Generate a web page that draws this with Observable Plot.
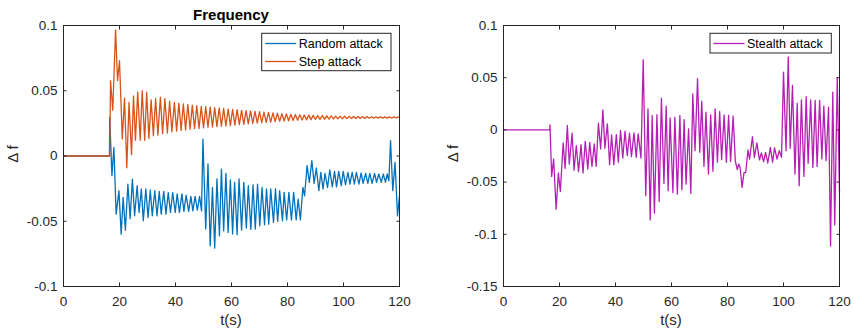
<!DOCTYPE html>
<html><head><meta charset="utf-8">
<script src="https://cdn.jsdelivr.net/npm/d3@7"></script>
<script src="https://cdn.jsdelivr.net/npm/@observablehq/plot@0.6"></script>
<style>
body{margin:0;background:#fff;}
#wrap{position:relative;width:854px;height:334px;overflow:hidden;background:#fff;}
#wrap svg{position:absolute;top:0;}
</style></head><body><div id="wrap"></div>
<script>
// ---------- data ----------
const xTicks = [0, 20, 40, 60, 80, 100, 120];
const xLabels = ["0", "20", "40", "60", "80", "100", "120"];
const leftYTicks = [-0.1, -0.05, 0, 0.05, 0.1];
const leftYLabels = ["-0.1", "-0.05", "0", "0.05", "0.1"];
const rightYTicks = [-0.15, -0.1, -0.05, 0, 0.05, 0.1];
const rightYLabels = ["-0.15", "-0.1", "-0.05", "0", "0.05", "0.1"];

const seriesNames = ["Random attack", "Step attack", "Stealth attack"];
const seriesColors = ["#0072BD", "#D95319", "#B51FB5"];
const titleLeft = "Frequency";
const xAxisLabel = "t(s)";
const yAxisLabel = "\u0394 f";

const randomT = [0,16.4,16.5,17.3,18.0,18.8,19.8,20.6,21.3,22.1,23.0,23.8,24.6,25.4,26.3,27.0,27.8,28.5,29.4,30.2,31.0,31.7,32.6,33.4,34.2,34.9,35.8,36.6,37.4,38.2,39.0,39.9,40.6,41.4,42.3,43.0,43.8,44.7,45.5,46.2,47.0,47.8,48.6,49.3,
49.8,50.8,51.6,52.4,53.2,54.0,54.8,55.7,56.4,57.2,58.0,58.8,59.6,60.4,61.1,62.0,62.7,63.6,64.4,65.3,66.0,66.9,67.7,68.5,69.3,70.1,70.9,71.8,72.5,73.3,74.0,75.0,75.7,76.5,77.2,78.2,78.8,79.7,80.5,81.4,82.2,83.1,83.8,84.6,85.5,86.1,87.0,87.8,88.7,89.5,90.3,91.2,91.9,92.7,93.4,94.3,95.1,96.0,96.8,97.5,98.3,99.2,99.9,100.7,101.6,102.3,103.1,103.9,104.6,105.5,106.3,107.0,107.9,108.7,109.4,110.2,111.1,111.8,112.6,113.5,114.2,115.0,115.6,116.2,116.8,117.6,118.4,119.3,120];
const randomV = [0,0,0.0296,-0.0151,0.0066,-0.0445,-0.0266,-0.060,-0.0317,-0.0568,-0.0215,-0.048,-0.0177,-0.0458,-0.0228,-0.0433,-0.0253,-0.0496,-0.0253,-0.047,-0.026,-0.0458,-0.0266,-0.0458,-0.0271,-0.0445,-0.0271,-0.0445,-0.028,-0.0432,-0.028,-0.0432,-0.029,-0.0432,-0.029,-0.0425,-0.030,-0.0425,-0.031,-0.042,-0.031,-0.0415,-0.031,-0.042,
0.013,-0.056,-0.0061,-0.0688,-0.0241,-0.0706,-0.0176,-0.0611,-0.010,-0.0573,-0.0133,-0.0586,-0.0184,-0.0598,-0.0202,-0.0604,-0.0176,-0.0568,-0.0202,-0.0552,-0.0228,-0.0563,-0.022,-0.056,-0.0215,-0.0535,-0.0241,-0.0527,-0.0253,-0.0522,-0.0253,-0.0509,-0.0253,-0.0501,-0.0266,-0.0496,-0.0279,-0.049,-0.0279,-0.049,-0.0279,-0.049,-0.033,-0.049,-0.024,-0.0305,-0.0074,-0.0202,-0.0036,-0.021,-0.0092,-0.0266,-0.0126,-0.0253,-0.0133,-0.024,-0.0107,-0.0236,-0.0118,-0.0236,-0.0118,-0.0228,-0.0118,-0.022,-0.0126,-0.0215,-0.0126,-0.0215,-0.0126,-0.0215,-0.013,-0.021,-0.0133,-0.021,-0.0133,-0.021,-0.0133,-0.0202,-0.0138,-0.0202,-0.0138,-0.0202,-0.0138,-0.019,0.0117,-0.0266,-0.0049,-0.0458,-0.0305];

const stepT = [0,16.5,16.8,17.6,18.6,19.3,20.0,21.0,21.8,22.6,23.4,24.3,25.0,25.7,26.5,27.4,28.1,29.0,29.7,30.5,31.3,32.1,32.9,33.7,34.6,35.4,36.2,37.1,37.9,38.7,39.6,
40.4,41.2,42.0,42.8,43.6,44.4,45.2,46.0,46.8,47.6,48.4,49.2,50.0,50.8,51.6,52.4,53.2,54.0,54.8,55.6,56.4,57.2,58.0,58.8,59.6,60.4,61.2,62.0,62.8,63.6,64.4,65.2,66.0,66.8,67.6,68.4,69.2,70.0,70.8,71.6,72.4,73.2,74.0,74.8,75.6,76.4,77.2,78.0,78.8,79.6,80.4,81.2,82.0,82.8,83.6,84.4,85.2,86.0,86.8,87.6,88.4,89.2,90.0,90.8,91.6,92.4,93.2,94.0,94.8,95.6,96.4,97.2,98.0,98.8,99.6,100.4,101.2,102.0,102.8,103.6,104.4,105.2,106.0,106.8,107.6,108.4,109.2,110.0,110.8,111.6,112.4,113.2,114.0,114.8,115.6,116.4,117.2,118.0,118.8,119.6,120];
const stepV = [0,0,0.0577,0.035,0.0967,0.0577,0.073,0.013,0.0444,-0.009,0.041,0.001,0.046,0.012,0.049,0.012,0.050,0.012,0.049,0.0135,0.043,0.0155,0.044,0.016,0.045,0.017,0.044,0.0176,0.042,0.0186,0.041,
0.019,0.0405,0.0195,0.040,0.020,0.0395,0.0205,0.039,0.021,0.0385,0.0212,0.038,0.0215,0.0378,0.022,0.0375,0.0222,0.037,0.0225,0.0368,0.0228,0.0365,0.023,0.036,0.0233,0.0358,0.0236,0.0355,0.024,0.035,0.0243,0.0348,0.0246,0.0345,0.0249,0.0342,0.0252,0.034,0.0255,0.0337,0.0258,0.0334,0.026,0.0331,0.0263,0.0328,0.0266,0.0325,0.0268,0.0323,0.027,0.032,0.0272,0.0318,0.0274,0.0316,0.0276,0.0314,0.0277,0.0313,0.0279,0.0311,0.028,0.031,0.0281,0.0309,0.0282,0.0308,0.0283,0.0307,0.0284,0.0306,0.0285,0.0305,0.0285,0.0305,0.0286,0.0304,0.0287,0.0303,0.0287,0.0303,0.0288,0.0302,0.0288,0.0302,0.0289,0.0301,0.0289,0.0301,0.029,0.0301,0.029,0.030,0.029,0.030,0.0291,0.030,0.0291,0.030,0.0298];

const stealthT = [0,16.5,16.6,17.2,17.9,18.8,19.6,20.3,21.3,22.0,22.8,23.5,24.5,25.2,26.0,26.8,27.7,28.4,29.2,30.1,30.8,31.6,32.4,33.1,33.9,34.7,35.5,36.2,37.1,37.9,38.6,39.4,40.3,41.0,41.8,42.6,43.4,44.2,45.0,45.7,46.6,47.4,48.1,49.1,49.9,50.8,51.6,52.4,53.1,53.9,54.8,55.6,56.4,57.3,58.1,58.8,59.5,60.5,61.2,62.1,63.0,63.7,64.5,65.2,66.1,66.9,67.6,68.4,69.3,70.1,70.8,71.6,72.3,73.2,74.0,74.8,75.6,76.4,77.2,77.9,78.8,79.6,80.4,81.1,82.0,82.8,83.5,84.0,84.5,85.2,85.9,86.5,87.3,87.9,88.9,89.6,90.5,91.4,92.1,92.9,93.6,94.4,95.3,96.1,96.8,97.7,98.5,99.3,100.0,100.9,101.7,102.4,103.2,104.1,104.9,105.6,106.4,107.3,108.1,108.8,109.7,110.5,111.3,112.0,112.9,113.7,114.4,115.2,116.1,116.8,117.6,118.3,119.2,120];
const stealthV = [0,0,0.0048,-0.0446,-0.0279,-0.076,-0.0413,-0.059,-0.0125,-0.0369,0.0042,-0.0327,-0.0032,-0.0385,-0.015,-0.040,-0.0141,-0.0413,-0.0109,-0.0375,-0.0119,-0.035,-0.0135,-0.035,0.0064,-0.0183,0.0192,-0.0176,0.0058,-0.0333,-0.0048,-0.0333,-0.0045,-0.031,-0.0006,-0.027,-0.0013,-0.0247,-0.0032,-0.0256,-0.0029,-0.0263,-0.0038,-0.027,0.0673,-0.0631,0.0202,-0.0862,0.0138,-0.0798,0.0147,-0.0686,0.0304,-0.0513,0.0228,-0.0583,0.0115,-0.060,0.0122,-0.0615,0.0138,-0.0574,0.0099,-0.052,0.001,-0.0609,0.0346,-0.0199,0.049,-0.0215,0.0276,-0.035,0.017,-0.0423,0.0144,-0.0397,0.0202,-0.031,0.0176,-0.0285,0.0144,-0.031,0.0138,-0.0304,0.0131,-0.030,-0.038,-0.0327,-0.036,-0.055,-0.041,-0.041,-0.0192,-0.0279,-0.0064,-0.0263,-0.0125,-0.0288,-0.0221,-0.0304,-0.0215,-0.0317,-0.0167,-0.031,-0.0173,-0.0279,-0.0199,-0.0263,0.0554,-0.0199,0.0699,-0.0176,0.0426,-0.0423,0.0256,-0.0535,0.0288,-0.0446,0.032,-0.032,0.0288,-0.0359,0.0282,-0.035,0.0282,-0.0279,0.0228,-0.0295,0.0218,-0.1112,0.0362,-0.091,0.050,-0.060];

// ---------- helpers ----------
function zip(T, V, name) {
  if (T.length !== V.length) throw new Error(name + " length mismatch " + T.length + " vs " + V.length);
  return T.map((t, i) => ({t, v: V[i]}));
}
const randomData = zip(randomT, randomV, "random");
const stepData = zip(stepT, stepV, "step");
const stealthData = zip(stealthT, stealthV, "stealth");

const FONT = '"Liberation Sans", Arial, Helvetica, sans-serif';
const INK = "#262626";
const wrap = document.getElementById("wrap");

function panel({series, yDomain, yTicks, yLabels, left, marginLeft, marginRight}) {
  const svg = Plot.plot({
    width: 427, height: 334,
    marginLeft, marginRight, marginTop: 25, marginBottom: 48,
    x: {domain: [0, 120]},
    y: {domain: yDomain},
    style: {fontFamily: FONT, fontSize: "13.5px", color: INK, background: "transparent", overflow: "visible"},
    marks: [
      ...series.map(s => Plot.line(s.data, {x: "t", y: "v", stroke: s.color, strokeWidth: 1.3})),
      Plot.frame({stroke: INK, strokeWidth: 1}),
      Plot.axisX(xTicks, {anchor: "bottom", tickSize: -3.5, tickPadding: 13.5, label: null,
        tickFormat: d => xLabels[xTicks.indexOf(d)]}),
      Plot.axisX(xTicks, {anchor: "top", tickSize: -3.5, label: null, tickFormat: () => ""}),
      Plot.axisY(yTicks, {anchor: "left", tickSize: -3.5, tickPadding: 9.5, label: null,
        tickFormat: d => yLabels[yTicks.indexOf(d)]}),
      Plot.axisY(yTicks, {anchor: "right", tickSize: -3.5, label: null, tickFormat: () => ""})
    ]
  });
  svg.style.left = left + "px";
  wrap.appendChild(svg);
}

panel({
  series: [{data: randomData, color: seriesColors[0]}, {data: stepData, color: seriesColors[1]}],
  yDomain: [-0.1, 0.1], yTicks: leftYTicks, yLabels: leftYLabels,
  left: 0, marginLeft: 63, marginRight: 28
});
panel({
  series: [{data: stealthData, color: seriesColors[2]}],
  yDomain: [-0.15, 0.1], yTicks: rightYTicks, yLabels: rightYLabels,
  left: 427, marginLeft: 76, marginRight: 15
});

// ---------- overlay: title, axis labels, legends ----------
const ov = d3.select(wrap).append("svg")
  .attr("width", 854).attr("height", 334)
  .style("left", "0px").style("font-family", FONT).style("pointer-events", "none");

ov.append("text").attr("x", 231).attr("y", 19.5).attr("text-anchor", "middle")
  .attr("font-size", 15).attr("font-weight", "bold").attr("fill", "#000").text(titleLeft);

[231, 671].forEach(cx => {
  ov.append("text").attr("x", cx).attr("y", 324.5).attr("text-anchor", "middle")
    .attr("font-size", 15).attr("fill", INK).text(xAxisLabel);
});
[[18.3, 154], [458.3, 153.5]].forEach(([x, y]) => {
  ov.append("text").attr("transform", `translate(${x},${y}) rotate(-90)`)
    .attr("text-anchor", "middle").attr("font-size", 15).attr("fill", INK).text(yAxisLabel);
});

function legend(x, y, w, items) {
  ov.append("rect").attr("x", x).attr("y", y).attr("width", w).attr("height", items.length === 1 ? 19.7 : 37.4)
    .attr("fill", "#fff").attr("stroke", INK).attr("stroke-width", 1);
  items.forEach((it, i) => {
    const cy = y + 10.2 + i * 18;
    ov.append("line").attr("x1", x + 3.5).attr("x2", x + 34.5).attr("y1", cy).attr("y2", cy)
      .attr("stroke", it.color).attr("stroke-width", 1.3);
    ov.append("text").attr("x", x + 37).attr("y", cy + 4.4).attr("font-size", 12.5)
      .attr("fill", "#000").text(it.name);
  });
}
legend(261.7, 33.3, 129.3, [{name: seriesNames[0], color: seriesColors[0]}, {name: seriesNames[1], color: seriesColors[1]}]);
legend(710, 33.3, 121.3, [{name: seriesNames[2], color: seriesColors[2]}]);
</script>
</body></html>
